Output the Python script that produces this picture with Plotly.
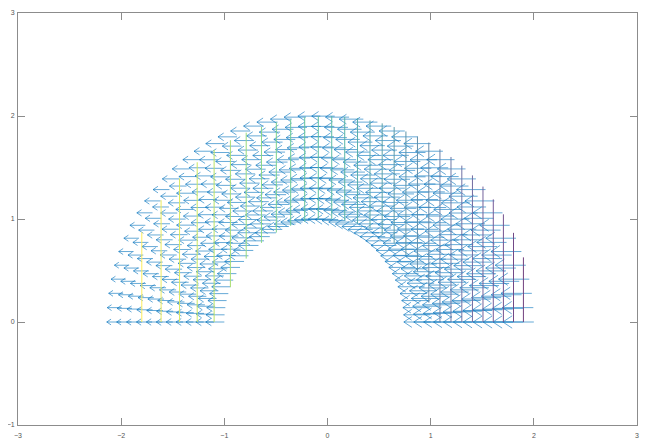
import numpy as np
import plotly.graph_objects as go
from plotly.colors import sample_colorscale, unlabel_rgb

# ---- data ----
R_VALUES = [1.0, 1.1, 1.2, 1.3, 1.4, 1.5, 1.6, 1.7, 1.8, 1.9, 2.0]
THETA_DEG = [0, 4, 8, 12, 16, 20, 24, 28, 32, 36, 40, 44, 48, 52, 56, 60, 64, 68,
             72, 76, 80, 84, 88, 92, 96, 100, 104, 108, 112, 116, 120, 124, 128,
             132, 136, 140, 144, 148, 152, 156, 160, 164, 168, 172, 176, 180]
# horizontal velocity u = -(U0 + U1*x)
U0 = 0.22
U1 = 0.04
# x positions of the potential contour lines (left = highest level)
CONTOUR_X = [-1.800, -1.613, -1.434, -1.263, -1.099, -0.941, -0.788, -0.640,
             -0.496, -0.357, -0.221, -0.089, 0.041, 0.167, 0.291, 0.412,
             0.530, 0.646, 0.760, 0.872, 0.982, 1.090, 1.197, 1.302, 1.405,
             1.507, 1.607, 1.705, 1.803, 1.899]
X_TICKS = [-3, -2, -1, 0, 1, 2, 3]
Y_TICKS = [-1, 0, 1, 2, 3]

HEAD_LEN = 0.3
HEAD_HALF = 0.2

fig = go.Figure()

# quiver: one trace per radius so that overlapping arrows darken
for r in R_VALUES:
    xs, ys = [], []
    for td in THETA_DEG:
        t = np.deg2rad(td)
        x0, y0 = r * np.cos(t), r * np.sin(t)
        u = -(U0 + U1 * x0)
        v = 0.0
        x1, y1 = x0 + u, y0 + v
        hx, hy = x0 + u * (1 - HEAD_LEN), y0 + v * (1 - HEAD_LEN)
        L = np.hypot(u, v)
        nx, ny = -v / L, u / L
        xs += [x0, x1, None,
               hx + nx * HEAD_HALF * L, x1, hx - nx * HEAD_HALF * L, None]
        ys += [y0, y1, None,
               hy + ny * HEAD_HALF * L, y1, hy - ny * HEAD_HALF * L, None]
    fig.add_trace(go.Scatter(x=xs, y=ys, mode="lines",
                             line=dict(color="rgba(0,114,189,0.6)", width=1),
                             hoverinfo="skip", showlegend=False))

# contour lines of the potential (viridis, high on the left), thin/light
n = len(CONTOUR_X)
cols = sample_colorscale("Viridis", [1 - k / (n - 1) for k in range(n)])


def lighten(c, f=0.25):
    rr, gg, bb = unlabel_rgb(c)
    return "rgb(%d,%d,%d)" % tuple(int(v + (255 - v) * f) for v in (rr, gg, bb))


for cx, col in zip(CONTOUR_X, cols):
    yb = np.sqrt(max(0.0, 1 - cx * cx))
    yt = np.sqrt(4 - cx * cx)
    fig.add_trace(go.Scatter(x=[cx, cx], y=[yb, yt], mode="lines",
                             line=dict(color=lighten(col), width=1),
                             hoverinfo="skip", showlegend=False))

axis_common = dict(showgrid=False, zeroline=False, showline=True,
                   linecolor="#8c8c8c", linewidth=1, mirror="ticks",
                   ticks="inside", ticklen=7, tickcolor="#8c8c8c",
                   automargin=False,
                   tickfont=dict(size=7, color="#555555", family="Liberation Sans"))
# the page body adds an 8px offset, so margins are shifted accordingly
fig.update_layout(
    width=650, height=448,
    margin=dict(l=10, r=21, t=5, b=31),
    paper_bgcolor="white", plot_bgcolor="white",
    xaxis=dict(range=[-3, 3], tickvals=X_TICKS, ticklabelstandoff=4, **axis_common),
    yaxis=dict(range=[-1, 3], tickvals=Y_TICKS, ticklabelstandoff=1, **axis_common),
)
fig.write_html("out.html")
